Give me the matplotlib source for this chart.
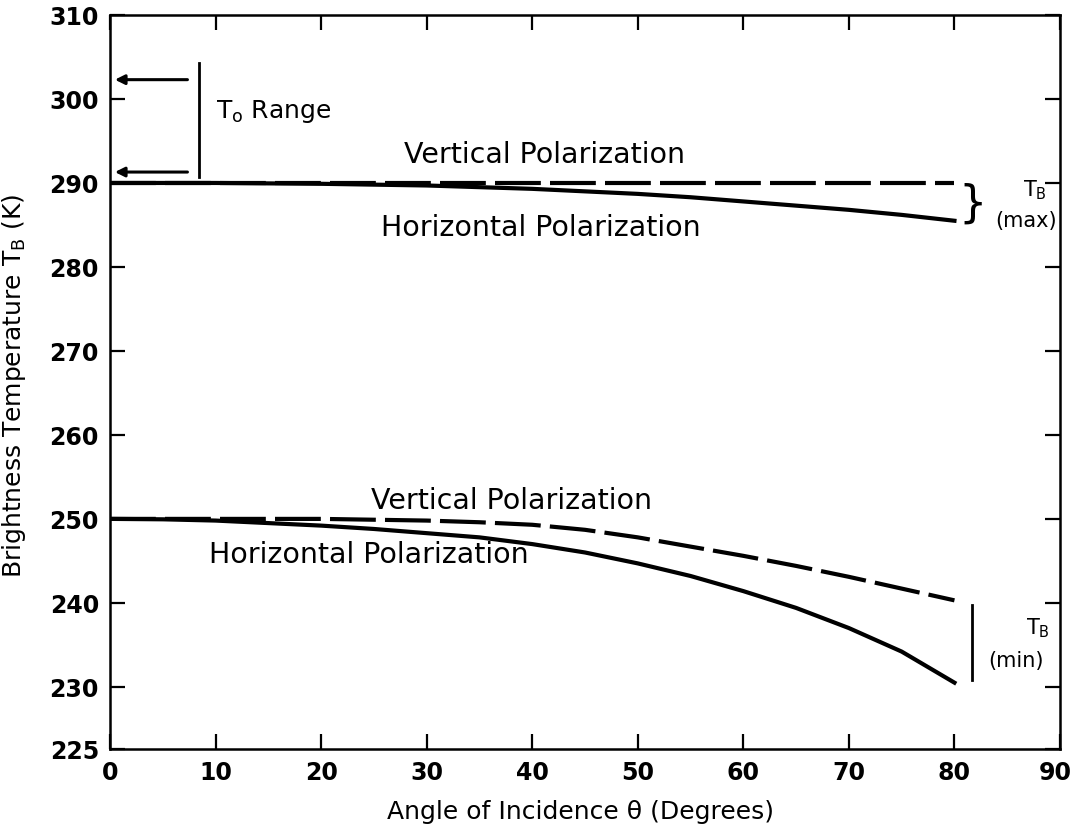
import numpy as np
import matplotlib
matplotlib.use("Agg")
import matplotlib.pyplot as plt
import matplotlib.transforms as mtransforms

plt.rcParams['font.family'] = ['Liberation Sans Narrow', 'DejaVu Sans']

# angle of incidence (degrees)
angle = [0, 5, 10, 15, 20, 25, 30, 35, 40, 45, 50, 55, 60, 65, 70, 75, 80]

# brightness temperature (K)
tb_max_vert = [290.0, 290.0, 290.0, 290.0, 290.0, 290.0, 290.0, 290.0, 290.0,
               290.0, 290.0, 290.0, 290.0, 290.0, 290.0, 290.0, 290.0]
tb_max_horiz = [290.0, 290.0, 290.0, 289.95, 289.9, 289.8, 289.7, 289.5, 289.3,
                289.0, 288.7, 288.3, 287.8, 287.3, 286.8, 286.2, 285.5]
tb_min_vert = [250.0, 250.0, 250.0, 250.0, 250.0, 249.9, 249.8, 249.6, 249.3,
               248.7, 247.8, 246.7, 245.6, 244.4, 243.1, 241.7, 240.3]
tb_min_horiz = [250.0, 249.95, 249.8, 249.5, 249.2, 248.8, 248.3, 247.8, 247.0,
                246.0, 244.7, 243.2, 241.4, 239.4, 237.0, 234.2, 230.5]

yticks = [225, 230, 240, 250, 260, 270, 280, 290, 300, 310]
xticks = [0, 10, 20, 30, 40, 50, 60, 70, 80, 90]

# To range marker (K)
to_range_low = 291.3
to_range_high = 302.3

# the 225-230 step of the original axis is drawn wider than the rest
STRETCH = 1.48
def fwd(y):
    y = np.asarray(y, dtype=float)
    return np.where(y < 230, 230 - (230 - y) * STRETCH, y)
def inv(t):
    t = np.asarray(t, dtype=float)
    return np.where(t < 230, 230 - (230 - t) / STRETCH, t)

fig = plt.figure(figsize=(10.7, 8.29), dpi=100)
ax = fig.add_axes([110/1070, 1 - 750/829, 950/1070, 734/829])
ax.set_yscale('function', functions=(fwd, inv))

lw = 3.0
ax.plot(angle, tb_max_vert, color='black', lw=lw, dashes=(11, 2.2))
ax.plot(angle, tb_max_horiz, color='black', lw=lw)
ax.plot(angle, tb_min_vert, color='black', lw=lw, dashes=(11, 2.2))
ax.plot(angle, tb_min_horiz, color='black', lw=lw)

ax.set_xlim(0, 90)
ax.set_ylim(225, 310)
ax.set_xticks(xticks)
ax.set_yticks(yticks)
ax.set_xticklabels([str(v) for v in xticks])
ax.set_yticklabels([str(v) for v in yticks])
ax.tick_params(direction='in', length=11, width=1.6, labelsize=17,
               top=True, right=True, pad=8)
for lab in ax.get_xticklabels() + ax.get_yticklabels():
    lab.set_fontweight('bold')
# keep the last x label inside the canvas
last = ax.get_xticklabels()[-1]
last.set_transform(last.get_transform() +
                   mtransforms.ScaledTranslation(-5/100, 0, fig.dpi_scale_trans))
for s in ax.spines.values():
    s.set_linewidth(1.8)

ax.set_ylabel(r'Brightness Temperature T$_\mathregular{B}$ (K)', fontsize=18)
ax.yaxis.set_label_coords(-0.086, 0.496)
ax.set_xlabel('Angle of Incidence θ (Degrees)', fontsize=18)
ax.xaxis.set_label_coords(0.495, -0.068)

txt = dict(fontsize=20.5, ha='center', va='center')
ax.text(41.2, 293.5, 'Vertical Polarization', **txt)
ax.text(40.8, 284.8, 'Horizontal Polarization', **txt)
ax.text(38.0, 252.3, 'Vertical Polarization', **txt)
ax.text(24.5, 245.8, 'Horizontal Polarization', **txt)

# To range
for yv in (to_range_low, to_range_high):
    ax.annotate('', xy=(0.2, yv), xytext=(7.6, yv),
                arrowprops=dict(arrowstyle='-|>', color='black', lw=2.2,
                                mutation_scale=14))
ax.plot([8.4, 8.4], [290.7, 304.3], color='black', lw=2)
ax.text(10.0, 298.6, r'T$_\mathregular{o}$ Range', fontsize=18, va='center')

# TB (max) / (min)
ax.text(81.7, 287.6, '}', fontsize=32, ha='center', va='center')
ax.text(87.6, 289.3, r'T$_\mathregular{B}$', fontsize=15, ha='center', va='center')
ax.text(86.8, 285.6, '(max)', fontsize=15, ha='center', va='center')
ax.plot([81.7, 81.7], [230.8, 239.8], color='black', lw=2)
ax.text(87.9, 237.1, r'T$_\mathregular{B}$', fontsize=15, ha='center', va='center')
ax.text(85.8, 233.2, '(min)', fontsize=15, ha='center', va='center')

fig.savefig('out.png', dpi=100)
